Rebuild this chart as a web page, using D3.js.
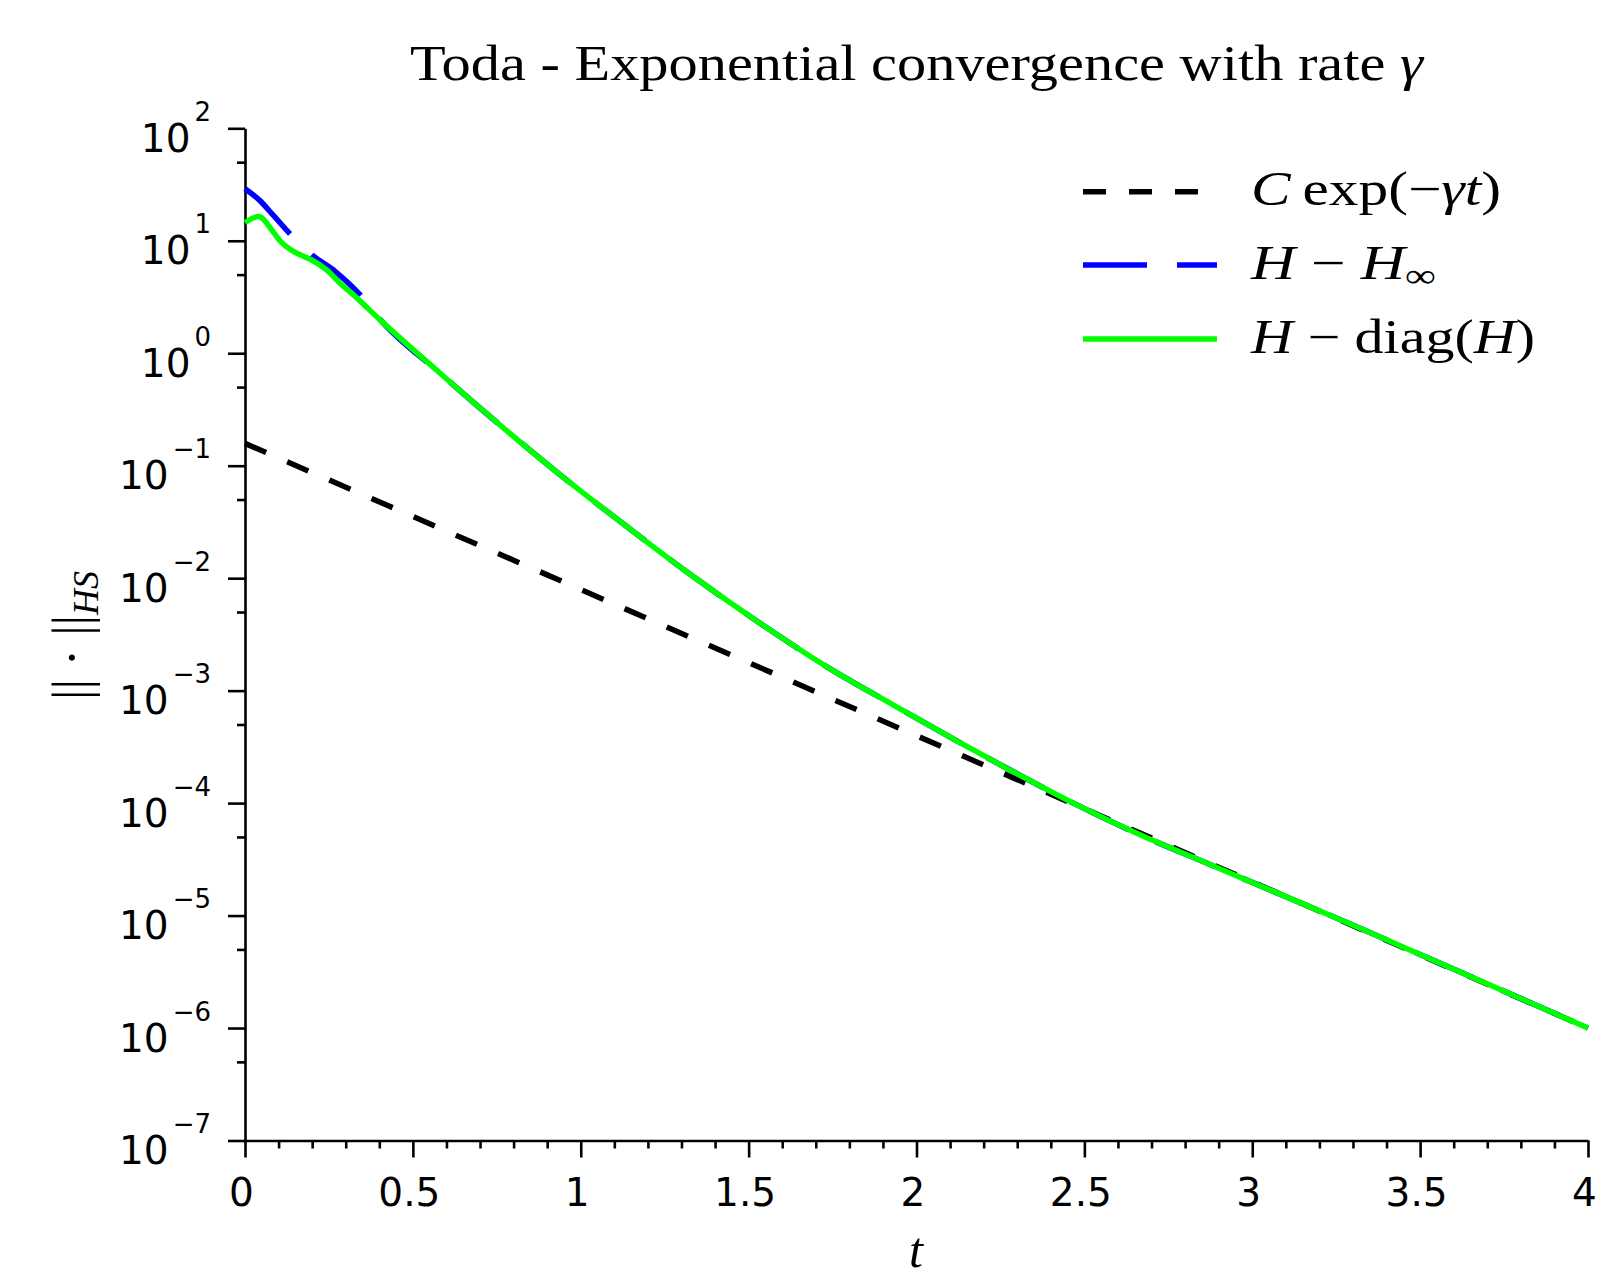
<!DOCTYPE html>
<html><head><meta charset="utf-8">
<script src="https://cdn.jsdelivr.net/npm/d3@7"></script>
<style>body{margin:0;background:#fff} svg{display:block}</style>
</head><body>
<svg id="c" width="1597" height="1279"></svg>
<script>
// ---- data ----
const xTickValues = [0, 0.5, 1, 1.5, 2, 2.5, 3, 3.5, 4];
const xTickLabels = ["0", "0.5", "1", "1.5", "2", "2.5", "3", "3.5", "4"];
const yTickExponents = [2, 1, 0, -1, -2, -3, -4, -5, -6, -7];
const yTickLabels = ["2", "1", "0", "\u22121", "\u22122", "\u22123", "\u22124", "\u22125", "\u22126", "\u22127"];
const seriesNames = ["C exp(\u2212\u03b3t)", "H \u2212 H\u221e", "H \u2212 diag(H)"];
const seriesColors = ["#000000", "#0000ff", "#00ff00"];

// C exp(-gamma t)
const tBlack = [0, 4];
const vBlack = [0.158, 1.0e-6];

// H - H_inf
const tBlue = [0, 0.042, 0.084, 0.132, 0.165, 0.199, 0.27, 0.343, 0.402, 0.581, 0.78, 0.938, 1.137, 1.335, 1.534, 1.732, 1.93, 2.128, 2.268, 2.467, 2.666, 2.864, 3.063, 3.261, 3.44, 4.0];
const vBlue = [29.0, 23.1, 16.9, 11.7, 9.3, 7.5, 5.3, 3.3, 2.0, 0.664, 0.204, 0.0832, 0.0288, 0.01033, 0.00398, 0.001637, 7.48e-4, 3.47e-4, 2.05e-4, 1.0e-4, 5.22e-5, 2.93e-5, 1.64e-5, 9.23e-6, 5.4e-6, 1.0e-6];

// H - diag(H)
const tGreen = [0, 0.04, 0.084, 0.104, 0.134, 0.164, 0.199, 0.243, 0.283, 0.323, 0.402, 0.581, 0.78, 0.938, 1.137, 1.335, 1.534, 1.732, 1.93, 2.128, 2.268, 2.467, 2.666, 2.864, 3.063, 3.261, 3.44, 4.0];
const vGreen = [14.5, 16.4, 12.0, 10.0, 8.4, 7.5, 6.75, 5.5, 4.19, 3.3, 1.98, 0.664, 0.204, 0.0832, 0.0288, 0.01033, 0.00398, 0.001637, 7.48e-4, 3.47e-4, 2.05e-4, 1.0e-4, 5.22e-5, 2.93e-5, 1.64e-5, 9.23e-6, 5.4e-6, 1.0e-6];

// ---- drawing ----
const svg = d3.select("#c");
const x = d3.scaleLinear().domain([0, 4]).range([245, 1588]);
const y = d3.scaleLog().domain([1e-7, 1e2]).range([1140.5, 128.3]);
const SANS = "'DejaVu Sans', sans-serif";
const SERIF = "'Liberation Serif', 'Times New Roman', serif";

// axes
const xMinor = d3.range(1, 40).map(i => i / 10).filter(v => Math.abs(v * 2 - Math.round(v * 2)) > 1e-6);
const yMinor = d3.range(-7, 2).map(e => 5 * Math.pow(10, e));

const gx = svg.append("g").attr("transform", `translate(0,${y(1e-7)})`)
  .call(d3.axisBottom(x).tickValues(xTickValues).tickSize(17).tickSizeOuter(0).tickFormat(""));
const gxm = svg.append("g").attr("transform", `translate(0,${y(1e-7)})`)
  .call(d3.axisBottom(x).tickValues(xMinor).tickSize(8).tickSizeOuter(0).tickFormat(""));
gxm.select(".domain").remove();
const gy = svg.append("g").attr("transform", `translate(${x(0)},0)`)
  .call(d3.axisLeft(y).tickValues(yTickExponents.map(e => Math.pow(10, e))).tickSize(17).tickSizeOuter(0).tickFormat(""));
const gym = svg.append("g").attr("transform", `translate(${x(0)},0)`)
  .call(d3.axisLeft(y).tickValues(yMinor).tickSize(8).tickSizeOuter(0).tickFormat(""));
gym.select(".domain").remove();
svg.selectAll(".domain, .tick line").attr("stroke", "#000").attr("stroke-width", 2.6);

// x tick labels
svg.append("g").selectAll("text").data(xTickValues).join("text")
  .attr("x", d => x(d) - 3.5).attr("y", 1206)
  .attr("text-anchor", "middle").attr("font-family", SANS).attr("font-size", 39)
  .text((d, i) => xTickLabels[i]);

// y tick labels
const yl = svg.append("g").selectAll("text").data(yTickExponents).join("text")
  .attr("x", 211).attr("y", d => y(Math.pow(10, d)) + 23.5)
  .attr("text-anchor", "end").attr("font-family", SANS).attr("font-size", 39);
yl.append("tspan").text("10");
yl.append("tspan").attr("dx", 4).attr("dy", -31).attr("font-size", 26).text((d, i) => yTickLabels[i]);

// lines
const line = d3.line().x(d => x(d[0])).y(d => y(d[1]));
const smooth = d3.line().x(d => x(d[0])).y(d => y(d[1])).curve(d3.curveMonotoneX);
svg.append("path").datum(tBlack.map((t, i) => [t, vBlack[i]]))
  .attr("d", line).attr("fill", "none").attr("stroke", seriesColors[0]).attr("stroke-width", 5.5)
  .attr("stroke-dasharray", "23,23");
svg.append("path").datum(tBlue.map((t, i) => [t, vBlue[i]]))
  .attr("d", smooth).attr("fill", "none").attr("stroke", seriesColors[1]).attr("stroke-width", 5.5)
  .attr("stroke-dasharray", "64,30");
svg.append("path").datum(tGreen.map((t, i) => [t, vGreen[i]]))
  .attr("d", smooth).attr("fill", "none").attr("stroke", seriesColors[2]).attr("stroke-width", 5.5);

// title
const title = svg.append("text").attr("x", 410).attr("y", 80)
  .attr("font-family", SERIF).attr("font-size", 50)
  .attr("textLength", 1013).attr("lengthAdjust", "spacingAndGlyphs");
title.append("tspan").text("Toda - Exponential convergence with rate ");
title.append("tspan").attr("font-style", "italic").text("\u03b3");

// x label
svg.append("text").attr("x", 916).attr("y", 1267).attr("text-anchor", "middle")
  .attr("font-family", SERIF).attr("font-style", "italic").attr("font-size", 50).text("t");

// y label
const ylab = svg.append("text").attr("transform", "translate(89,700) rotate(-90)")
  .attr("font-family", SERIF).attr("font-size", 52);
ylab.append("tspan").text("|| \u00b7 ||");
ylab.append("tspan").attr("font-style", "italic").attr("font-size", 36).attr("dy", 9).text("HS");

// legend
const legY = [191.7, 265, 339];
const legDash = ["23,23", "64,30", null];
const legW = [250, 185, 284];
legY.forEach((ly, i) => {
  const l = svg.append("line").attr("x1", 1083).attr("x2", 1217).attr("y1", ly).attr("y2", ly)
    .attr("stroke", seriesColors[i]).attr("stroke-width", 5.5);
  if (legDash[i]) l.attr("stroke-dasharray", legDash[i]);
});
const lt = legY.map((ly, i) => svg.append("text").attr("x", 1251).attr("y", ly + 13.5)
  .attr("font-family", SERIF).attr("font-size", 48)
  .attr("textLength", legW[i]).attr("lengthAdjust", "spacingAndGlyphs"));
lt[0].append("tspan").attr("font-style", "italic").text("C");
lt[0].append("tspan").text("\u2009exp(\u2212");
lt[0].append("tspan").attr("font-style", "italic").text("\u03b3t");
lt[0].append("tspan").text(")");
lt[1].append("tspan").attr("font-style", "italic").text("H");
lt[1].append("tspan").text(" \u2212 ");
lt[1].append("tspan").attr("font-style", "italic").text("H");
lt[1].append("tspan").attr("font-size", 34).attr("dy", 8).text("\u221e");
lt[2].append("tspan").attr("font-style", "italic").text("H");
lt[2].append("tspan").text(" \u2212 diag(");
lt[2].append("tspan").attr("font-style", "italic").text("H");
lt[2].append("tspan").text(")");
</script>
</body></html>
